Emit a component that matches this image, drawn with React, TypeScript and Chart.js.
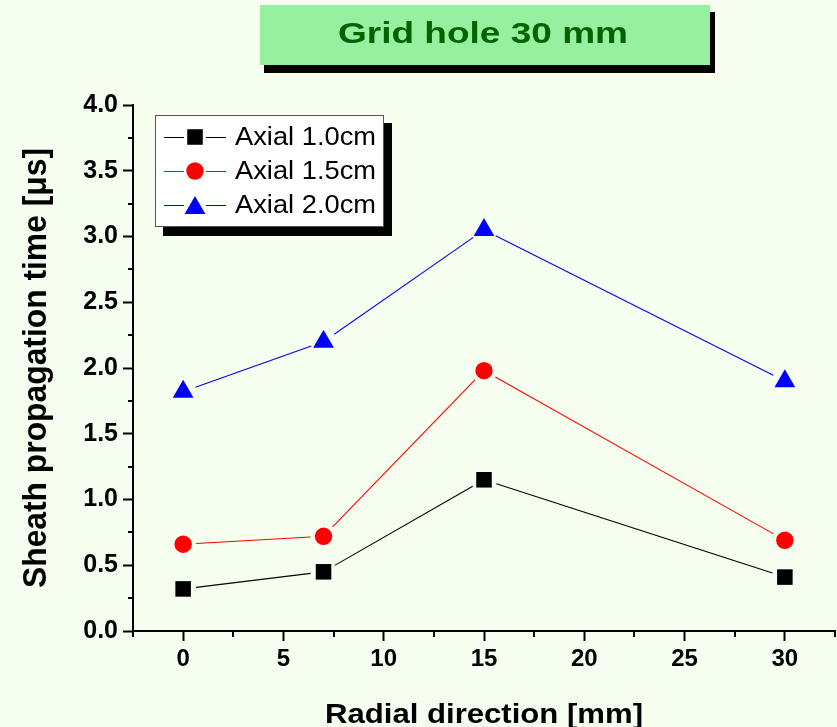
import React, { useEffect, useRef } from 'react';
import { Chart, registerables } from 'chart.js';
import { drawPoint } from 'chart.js/helpers';

Chart.register(...registerables);

// ---- data ----
const chartTitle = 'Grid hole 30 mm';
const xAxisTitle = 'Radial direction [mm]';
const yAxisTitle = 'Sheath propagation time [\u03bcs]';
const xValues = [0, 7, 15, 30];
const axial10 = [0.32, 0.45, 1.15, 0.41];
const axial15 = [0.66, 0.72, 1.98, 0.69];
const axial20 = [1.82, 2.2, 3.05, 1.9];
const seriesLabels = ['Axial 1.0cm', 'Axial 1.5cm', 'Axial 2.0cm'];
const xTickValues = [0, 5, 10, 15, 20, 25, 30];
const yTickValues = [0, 0.5, 1, 1.5, 2, 2.5, 3, 3.5, 4];
const xMinorTicks = [-2.5, 2.5, 7.5, 12.5, 17.5, 22.5, 27.5, 32.5];
const yMinorTicks = [0.25, 0.75, 1.25, 1.75, 2.25, 2.75, 3.25, 3.75];

// ---- styles ----
const BG = '#F6FFEF';
const FONT = '"Liberation Sans", Arial, Helvetica, sans-serif';
const seriesColors = ['#000000', '#FF0000', '#0000FF'];
const seriesStyles = ['rect', 'circle', 'triangle'];
const seriesRadii = [11, 8.7, 12];
const PLOT_LEFT = 133;
const PLOT_RIGHT = 835;

function fitText(
  ctx: CanvasRenderingContext2D,
  text: string,
  x: number,
  y: number,
  font: string,
  width: number,
  align: CanvasTextAlign,
  color: string
) {
  ctx.save();
  ctx.font = font;
  ctx.fillStyle = color;
  ctx.textBaseline = 'alphabetic';
  const w = ctx.measureText(text).width;
  ctx.translate(x, y);
  ctx.scale(width / w, 1);
  ctx.textAlign = align;
  ctx.fillText(text, 0, 0);
  ctx.restore();
}

const decorPlugin = {
  id: 'decor',
  beforeDraw(chart: any) {
    const ctx = chart.ctx as CanvasRenderingContext2D;
    ctx.save();
    ctx.fillStyle = BG;
    ctx.fillRect(0, 0, chart.width, chart.height);
    ctx.restore();
  },
  beforeDatasetsDraw(chart: any) {
    const ctx = chart.ctx as CanvasRenderingContext2D;
    chart.data.datasets.forEach((ds: any, i: number) => {
      const pts = chart.getDatasetMeta(i).data;
      ctx.save();
      ctx.strokeStyle = ds.borderColor;
      ctx.lineWidth = 1.1;
      for (let k = 0; k < pts.length - 1; k++) {
        const a = pts[k];
        const b = pts[k + 1];
        const dx = b.x - a.x;
        const dy = b.y - a.y;
        const len = Math.hypot(dx, dy);
        const ux = dx / len;
        const uy = dy / len;
        const gap = 13;
        ctx.beginPath();
        ctx.moveTo(a.x + ux * gap, a.y + uy * gap);
        ctx.lineTo(b.x - ux * gap, b.y - uy * gap);
        ctx.stroke();
      }
      ctx.restore();
    });
  },
  afterDraw(chart: any) {
    const ctx = chart.ctx as CanvasRenderingContext2D;
    const xs = chart.scales.x;
    const ys = chart.scales.y;
    const area = chart.chartArea;

    // minor ticks
    ctx.save();
    ctx.strokeStyle = '#000';
    ctx.lineWidth = 2;
    ctx.beginPath();
    yMinorTicks.forEach((v) => {
      const py = Math.round(ys.getPixelForValue(v));
      ctx.moveTo(area.left - 5, py);
      ctx.lineTo(area.left, py);
    });
    xMinorTicks.forEach((v) => {
      const px = Math.round(xs.getPixelForValue(v));
      ctx.moveTo(px, area.bottom);
      ctx.lineTo(px, area.bottom + 6);
    });
    ctx.stroke();
    ctx.restore();

    // axis titles
    ctx.save();
    ctx.translate(46, (area.top + area.bottom) / 2);
    ctx.rotate(-Math.PI / 2);
    fitText(ctx, yAxisTitle, 0, 0, `bold 33px ${FONT}`, 440, 'center', '#000');
    ctx.restore();
    fitText(ctx, xAxisTitle, (area.left + area.right) / 2, 723, `bold 28px ${FONT}`, 318, 'center', '#000');

    // title box
    ctx.save();
    ctx.fillStyle = '#000';
    ctx.fillRect(264, 12, 451, 61);
    ctx.fillStyle = '#96F0A0';
    ctx.fillRect(260, 5, 450, 60);
    ctx.restore();
    fitText(ctx, chartTitle, 483, 43, `bold 29px ${FONT}`, 290, 'center', '#006400');

    // legend
    ctx.save();
    ctx.fillStyle = '#000';
    ctx.fillRect(163, 123, 229, 113);
    ctx.fillStyle = '#FFFFFF';
    ctx.fillRect(155, 115, 229, 112);
    ctx.strokeStyle = '#555';
    ctx.lineWidth = 1;
    ctx.strokeRect(155.5, 115.5, 228, 111);
    chart.data.datasets.forEach((ds: any, i: number) => {
      const cy = 137 + 34 * i;
      ctx.strokeStyle = ds.borderColor;
      ctx.lineWidth = 1.1;
      ctx.beginPath();
      ctx.moveTo(164, cy + 0.5);
      ctx.lineTo(184, cy + 0.5);
      ctx.moveTo(206, cy + 0.5);
      ctx.lineTo(226, cy + 0.5);
      ctx.stroke();
      ctx.fillStyle = ds.backgroundColor;
      const off = ds.pointStyle === 'triangle' ? ds.pointRadius / 4 : 0;
      drawPoint(
        ctx,
        { pointStyle: ds.pointStyle, rotation: 0, radius: ds.pointRadius, borderWidth: 0 } as any,
        195,
        cy + off
      );
      fitText(ctx, ds.label, 235, cy + 8, `25px ${FONT}`, 141, 'left', '#000');
    });
    ctx.restore();
  },
};

// forces the plot area horizontally to the reference frame after layout
const areaPlugin = {
  id: 'areaFix',
  afterLayout(chart: any) {
    const area = chart.chartArea;
    if (Math.abs(area.right - PLOT_RIGHT) > 0.5 || Math.abs(area.left - PLOT_LEFT) > 0.5) {
      area.left = PLOT_LEFT;
      area.right = PLOT_RIGHT;
      area.width = PLOT_RIGHT - PLOT_LEFT;
      const xs = chart.scales.x;
      xs.left = PLOT_LEFT;
      xs.right = PLOT_RIGHT;
      xs.width = PLOT_RIGHT - PLOT_LEFT;
      xs.configure();
      const ys = chart.scales.y;
      ys.left = 0;
      ys.right = PLOT_LEFT;
      ys.width = PLOT_LEFT;
    }
  },
};

export default function App() {
  const canvasRef = useRef<HTMLCanvasElement | null>(null);

  useEffect(() => {
    const canvas = canvasRef.current;
    if (!canvas) return;
    const seriesValues = [axial10, axial15, axial20];
    const chart = new Chart(canvas, {
      type: 'scatter',
      data: {
        datasets: seriesLabels.map((label, i) => ({
          label,
          data: xValues.map((x, j) => ({ x, y: seriesValues[i][j] })),
          pointStyle: seriesStyles[i] as any,
          pointRadius: seriesRadii[i],
          pointHoverRadius: seriesRadii[i],
          backgroundColor: seriesColors[i],
          borderColor: seriesColors[i],
          pointBorderWidth: 0,
          showLine: false,
        })),
      },
      options: {
        responsive: true,
        maintainAspectRatio: false,
        animation: false,
        events: [],
        layout: { padding: { top: 105, right: 2, left: 0, bottom: 0 } },
        plugins: {
          legend: { display: false },
          title: { display: false },
          tooltip: { enabled: false },
        },
        scales: {
          x: {
            type: 'linear',
            min: -2.5,
            max: 32.5,
            afterBuildTicks: (s: any) => {
              s.ticks = xTickValues.map((v) => ({ value: v }));
            },
            afterFit: (s: any) => {
              s.height = 96;
              s.paddingLeft = 0;
              s.paddingRight = 0;
            },
            grid: {
              drawOnChartArea: false,
              drawTicks: true,
              tickLength: 10,
              tickWidth: 2,
              tickColor: '#000',
            },
            border: { display: true, color: '#000', width: 2 },
            ticks: {
              color: '#000',
              font: { family: FONT, size: 24, weight: 'bold' },
              padding: 4,
              maxRotation: 0,
              autoSkip: false,
              callback: (v: any) => String(v),
            },
          },
          y: {
            type: 'linear',
            min: 0,
            max: 4,
            afterBuildTicks: (s: any) => {
              s.ticks = yTickValues.map((v) => ({ value: v }));
            },
            afterFit: (s: any) => {
              s.width = 133;
              s.paddingTop = 0;
              s.paddingBottom = 0;
            },
            grid: {
              drawOnChartArea: false,
              drawTicks: true,
              tickLength: 10,
              tickWidth: 2,
              tickColor: '#000',
            },
            border: { display: true, color: '#000', width: 2 },
            ticks: {
              color: '#000',
              font: { family: FONT, size: 25, weight: 'bold' },
              padding: 5,
              autoSkip: false,
              callback: (v: any) => Number(v).toFixed(1),
            },
          },
        },
      },
      plugins: [areaPlugin, decorPlugin],
    });
    return () => chart.destroy();
  }, []);

  return (
    <div
      style={{
        position: 'fixed',
        left: 0,
        top: 0,
        width: 837,
        height: 727,
        background: BG,
      }}
    >
      <canvas ref={canvasRef} />
    </div>
  );
}
